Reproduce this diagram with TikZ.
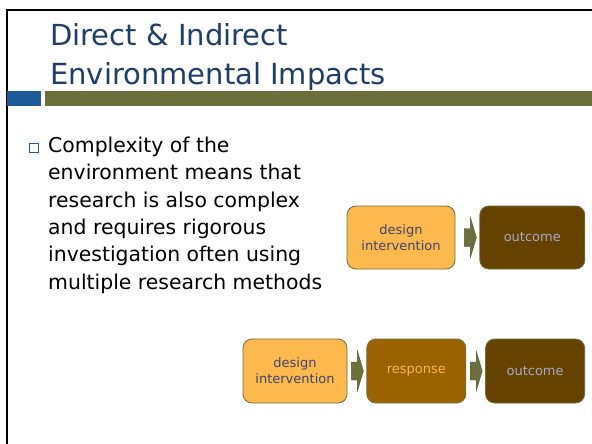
\documentclass[tikz,border=0pt]{standalone}
\usepackage{fontspec}
\setmainfont{DejaVu Sans}
\usepackage{xcolor}
\usepackage{tikz}
\usetikzlibrary{calc}
\usetikzlibrary{shapes,arrows,positioning}
\definecolor{title-blue}{HTML}{1F3D66}
\definecolor{bar-blue}{HTML}{1C5A99}
\definecolor{bar-olive}{HTML}{6B6F3C}
\definecolor{box-light}{HTML}{FDB94D}
\definecolor{box-mid}{HTML}{9A6300}
\definecolor{box-dark}{HTML}{664200}
\definecolor{text-navy}{HTML}{3B4570}
\definecolor{text-resp}{HTML}{F5B54E}
\definecolor{text-out}{HTML}{A6A9C8}
\tikzset{stage-box/.style={draw=bar-olive,line width=0.8pt,rounded corners=9pt,minimum height=63pt,align=center,inner sep=0pt,font=\fontsize{13}{16}\selectfont}}
\tikzset{stage-arrow/.style={fill=bar-olive,draw=bar-olive!80!black,line width=0.4pt}}
\tikzset{slide-text/.style={anchor=north west,inner sep=0pt,align=left}}
\tikzset{>=latex}
\newcommand{\stagearrow}[2]{%
  \coordinate (#1-tip) at ([xshift=-3pt]#2.west);
  \filldraw[stage-arrow] ([xshift=-12pt,yshift=9pt]#1-tip) -- ([xshift=-6pt,yshift=9pt]#1-tip)
    -- ([xshift=-6pt,yshift=20pt]#1-tip) -- (#1-tip) -- ([xshift=-6pt,yshift=-20pt]#1-tip)
    -- ([xshift=-6pt,yshift=-9pt]#1-tip) -- ([xshift=-12pt,yshift=-9pt]#1-tip) -- cycle;}
\begin{document}
\begin{tikzpicture}[x=1pt,y=-1pt]
            \useasboundingbox (0,0) rectangle (592,444);
            \draw[line width=2pt] (7,444) -- (7,10) -- (592,10);

            \node[slide-text,text=title-blue,font=\fontsize{29}{39}\selectfont] (title) at (50,23)
                {Direct \& Indirect\\Environmental Impacts};
            \fill[bar-blue] (7,91) rectangle (41,106);
            \fill[bar-olive] (45,91) rectangle (592,106);

            \node[draw=bar-blue,line width=0.9pt,fill=white,minimum size=9pt,inner sep=0pt] (bullet) at (33.5,147.5) {};
            \node[slide-text,font=\fontsize{20.4}{27.4}\selectfont] (body) at (48,136.5)
                {Complexity of the\\environment means that\\research is also complex\\and requires rigorous\\investigation often using\\multiple research methods};

            \node[stage-box,fill=box-light,text=text-navy,minimum width=108pt] (design-top) at (401,237.5) {design\\intervention};
            \node[stage-box,fill=box-dark,text=text-out,minimum width=105pt,right=24pt of design-top] (outcome-top) {outcome};
            \stagearrow{design-top}{outcome-top}

            \node[stage-box,fill=box-light,text=text-navy,minimum width=104pt,minimum height=64pt] (design-low) at (295,371) {design\\intervention};
            \node[stage-box,fill=box-mid,text=text-resp,minimum width=99pt,minimum height=64pt,right=19pt of design-low] (response) {response};
            \node[stage-box,fill=box-dark,text=text-out,minimum width=99pt,minimum height=64pt,right=19pt of response] (outcome-low) {outcome};
            \stagearrow{design-low}{response}
            \stagearrow{response}{outcome-low}
        \end{tikzpicture}
\end{document}
